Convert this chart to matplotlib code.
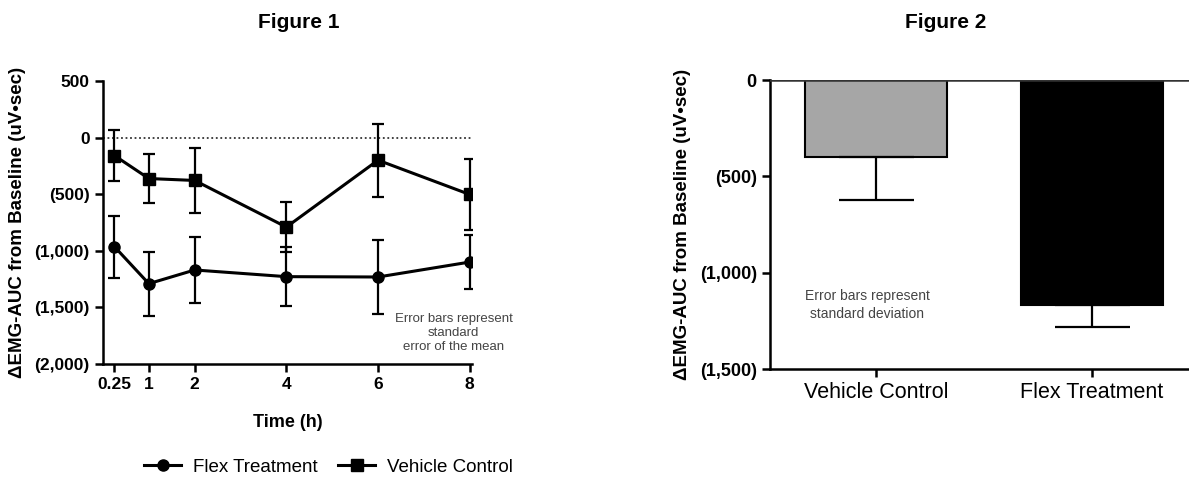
import matplotlib.pyplot as plt
from matplotlib.ticker import FuncFormatter
from matplotlib.lines import Line2D
import numpy as np

plt.rcParams['font.family'] = ['Liberation Sans', 'DejaVu Sans']

# Figure 1 data: time course
time_h = [0.25, 1, 2, 4, 6, 8]
flex_mean = [-964, -1291, -1170, -1229, -1232, -1100]
flex_sem = [275, 283, 295, 260, 330, 236]
vehicle_mean = [-159, -362, -379, -791, -200, -503]
vehicle_sem = [225, 220, 287, 220, 323, 312]

# Figure 2 data: overall
groups = ['Vehicle Control', 'Flex Treatment']
group_mean = [-401, -1168]
group_sd = [224, 116]
bar_colors = ['#a6a6a6', '#000000']


def paren_fmt(v, pos):
    if v < 0:
        return '({:,.0f})'.format(-v)
    return '{:,.0f}'.format(v)


fig = plt.figure(figsize=(11.89, 4.82), dpi=100)
ylab = '\u0394EMG-AUC from Baseline (uV\u2022sec)'

# ---- Figure 1 ----
ax1 = fig.add_axes([0.0866, 0.245, 0.3104, 0.587])
ax1.axhline(0, color='#333333', linestyle=(0, (1, 1.5)), linewidth=1.3, zorder=1)
ax1.errorbar(time_h, flex_mean, yerr=flex_sem, color='black', marker='o', markersize=8,
             linewidth=2.2, capsize=4.5, capthick=1.6, elinewidth=1.6)
ax1.errorbar(time_h, vehicle_mean, yerr=vehicle_sem, color='black', marker='s', markersize=8,
             linewidth=2.2, capsize=4.5, capthick=1.6, elinewidth=1.6)
ax1.set_xlim(0, 8.05)
ax1.set_ylim(-2000, 500)
ax1.set_xticks(time_h)
ax1.set_xticklabels(['0.25', '1', '2', '4', '6', '8'])
ax1.set_yticks([500, 0, -500, -1000, -1500, -2000])
ax1.yaxis.set_major_formatter(FuncFormatter(paren_fmt))
for s in ['top', 'right']:
    ax1.spines[s].set_visible(False)
for s in ['left', 'bottom']:
    ax1.spines[s].set_linewidth(1.8)
ax1.tick_params(width=1.8, length=6, labelsize=12.5)
for lab in ax1.get_xticklabels() + ax1.get_yticklabels():
    lab.set_fontweight('bold')
ax1.set_xlabel('Time (h)', fontsize=13, fontweight='bold', labelpad=16)
ax1.set_ylabel(ylab, fontsize=13.5, fontweight='bold', labelpad=6)
ax1.text(0.95, 0.11, 'Error bars represent\nstandard\nerror of the mean', transform=ax1.transAxes,
         ha='center', va='center', fontsize=9.5, color='#444444', linespacing=1.25)
fig.text(0.251, 0.954, 'Figure 1', ha='center', va='center', fontsize=15, fontweight='bold')

handles = [Line2D([], [], color='black', marker='o', markersize=8, linewidth=2.2),
           Line2D([], [], color='black', marker='s', markersize=8, linewidth=2.2)]
fig.legend(handles=handles, labels=['Flex Treatment', 'Vehicle Control'],
           loc='center', bbox_to_anchor=(0.276, 0.031), ncol=2, frameon=False, fontsize=13.5,
           handlelength=2.0, columnspacing=1.1, handletextpad=0.6)

# ---- Figure 2 ----
ax2 = fig.add_axes([0.6476, 0.2344, 0.3524, 0.5996])
xpos = np.arange(len(groups))
ax2.bar(xpos, group_mean, width=0.66, color=bar_colors, edgecolor='black', linewidth=1.5, zorder=2)
for x, m, sd in zip(xpos, group_mean, group_sd):
    ax2.errorbar([x], [m], yerr=[[sd], [0]], color='black', capsize=27, capthick=1.6,
                 elinewidth=1.6, fmt='none', zorder=3)
ax2.axhline(0, color='#333333', linewidth=1.8, zorder=4)
ax2.set_xlim(-0.49, 1.45)
ax2.set_ylim(-1500, 0)
ax2.set_xticks(xpos)
ax2.set_xticklabels(groups, fontsize=15.5)
ax2.set_yticks([0, -500, -1000, -1500])
ax2.yaxis.set_major_formatter(FuncFormatter(paren_fmt))
for s in ['top', 'right']:
    ax2.spines[s].set_visible(False)
for s in ['left', 'bottom']:
    ax2.spines[s].set_linewidth(1.8)
ax2.tick_params(width=1.8, length=6)
ax2.tick_params(axis='y', labelsize=13)
for lab in ax2.get_yticklabels():
    lab.set_fontweight('bold')
ax2.set_ylabel(ylab, fontsize=13.5, fontweight='bold', labelpad=6)
ax2.text(-0.04, -1168, 'Error bars represent\nstandard deviation', ha='center', va='center',
         fontsize=10, color='#444444', linespacing=1.35)
fig.text(0.795, 0.954, 'Figure 2', ha='center', va='center', fontsize=15, fontweight='bold')

fig.savefig('out.png', dpi=100)
